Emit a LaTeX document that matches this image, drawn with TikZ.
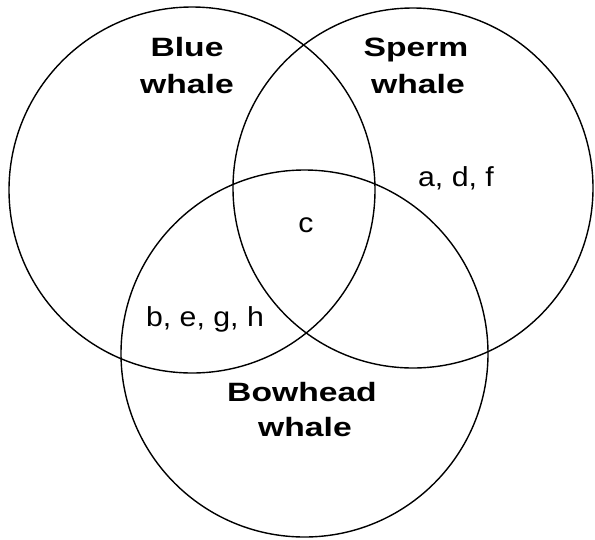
\documentclass[tikz,border=0pt]{standalone}
\usepackage{fontspec}
\setmainfont{Liberation Sans}
\newfontfamily\boldlbl{Liberation Sans Bold}[FakeStretch=1.27]
\newfontfamily\reglbl{Liberation Sans}[FakeStretch=1.1]
\tikzset{
  venn/.style={draw=black, line width=1.4pt},
  title/.style={anchor=base, inner sep=0pt, font=\boldlbl\fontsize{26.5}{30}\selectfont},
  items/.style={anchor=base, inner sep=0pt, font=\reglbl\fontsize{27.5}{30}\selectfont}
}
\begin{document}
\begin{tikzpicture}[x=1pt, y=-1pt]
\useasboundingbox[fill=white] (0,0) rectangle (595,539);
\draw[venn] (192,190) circle[radius=183];
\draw[venn] (413,188) circle[radius=180];
\draw[venn] (304.5,353.5) circle[radius=183.5];
\node[title] (blue1) at (187,56.7) {Blue};
\node[title] (blue2) at (187,93.3) {whale};
\node[title] (sperm1) at (416,56.7) {Sperm};
\node[title] (sperm2) at (418,93.3) {whale};
\node[title] (bow1) at (302,401.7) {Bowhead};
\node[title] (bow2) at (305,436.7) {whale};
\node[items] (adf) at (456,186.7) {a, d, f};
\node[items] (c) at (306,232) {c};
\node[items] (begh) at (205,326.7) {b, e, g, h};
\end{tikzpicture}
\end{document}
